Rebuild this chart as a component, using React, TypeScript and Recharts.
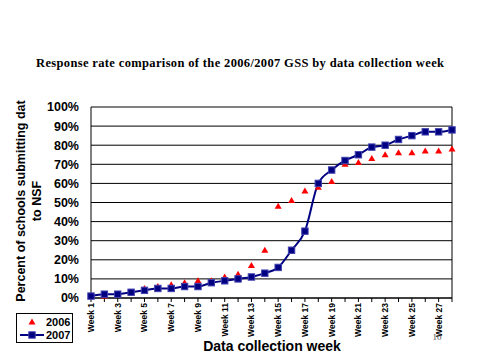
import React from 'react';
import { LineChart, Line, XAxis, YAxis, CartesianGrid, ReferenceLine } from 'recharts';

const weeks = [
  'Week 1', 'Week 2', 'Week 3', 'Week 4', 'Week 5', 'Week 6', 'Week 7',
  'Week 8', 'Week 9', 'Week 10', 'Week 11', 'Week 12', 'Week 13', 'Week 14',
  'Week 15', 'Week 16', 'Week 17', 'Week 18', 'Week 19', 'Week 20', 'Week 21',
  'Week 22', 'Week 23', 'Week 24', 'Week 25', 'Week 26', 'Week 27', 'Week 28',
];
const rate2006 = [1, 1, 1.5, 3, 5, 6, 7, 8, 9, 9, 11, 12.5, 17, 25, 48, 51, 56, 58, 61, 70, 71, 73, 75, 76, 76, 77, 77, 78];
const rate2007 = [1, 2, 2, 3, 4, 5, 5, 6, 6, 8, 9, 10, 11, 13, 16, 25, 35, 60, 67, 72, 75, 79, 80, 83, 85, 87, 87, 88];
const yTicks = [0, 10, 20, 30, 40, 50, 60, 70, 80, 90, 100];

const data = weeks.map((w, i) => ({ week: w, y2006: rate2006[i], y2007: rate2007[i] }));

const SANS = '"Liberation Sans", Arial, sans-serif';
const SERIF = '"Liberation Serif", "Times New Roman", serif';
const RED = '#FF0000';
const NAVY = '#000080';

const Tri = ({ cx, cy }: any) => {
  if (cx == null || cy == null) return null;
  return <path d={`M${cx},${cy - 3.5} L${cx + 3.5},${cy + 2.5} L${cx - 3.5},${cy + 2.5} Z`} fill={RED} />;
};

const Sq = ({ cx, cy }: any) => {
  if (cx == null || cy == null) return null;
  return <rect x={cx - 3.2} y={cy - 3.2} width={6.4} height={6.4} fill={NAVY} stroke="#4040b0" strokeWidth={1} />;
};

const WeekTick = ({ x, y, payload, index }: any) => {
  if (index % 2 !== 0) return <g />;
  return (
    <text transform={`translate(${x + 3},${y}) rotate(-90)`} textAnchor="end" fontSize={8.5} fontWeight={700} fontFamily={SANS} fill="#000">
      {payload.value}
    </text>
  );
};

export default function App() {
  return (
    <div style={{ position: 'absolute', left: 0, top: 0, width: 480, height: 360, background: '#fff' }}>
      <LineChart width={480} height={360} data={data} margin={{ top: 107, right: 28, bottom: 12, left: 36 }}>
        <CartesianGrid vertical={false} stroke="#000" strokeWidth={1} />
        <XAxis dataKey="week" interval={0} height={50} tick={<WeekTick />} tickSize={4} tickMargin={1} axisLine={{ stroke: '#000' }} tickLine={{ stroke: '#000' }} />
        <YAxis domain={[0, 100]} ticks={yTicks} interval={0} width={55} tickFormatter={v => `${v}%`} axisLine={{ stroke: '#000' }} tickLine={false} tickMargin={6}
          tick={{ fontSize: 12.5, fontWeight: 700, fill: '#000', fontFamily: SANS }} />
        <ReferenceLine x="Week 28" stroke="#000" strokeWidth={1} />
        <Line dataKey="y2006" stroke="none" dot={<Tri />} activeDot={false} isAnimationActive={false} />
        <Line dataKey="y2007" type="monotone" stroke={NAVY} strokeWidth={2} dot={<Sq />} activeDot={false} isAnimationActive={false} />
      </LineChart>
      <svg width={480} height={360} style={{ position: 'absolute', left: 0, top: 0, pointerEvents: 'none' }}>
        <text x={240} y={67} textAnchor="middle" fontSize={12.5} fontWeight={700} fontFamily={SERIF} textLength={408} lengthAdjust="spacing">
          Response rate comparison of the 2006/2007 GSS by data collection week
        </text>
        <text transform="translate(25,201) rotate(-90)" textAnchor="middle" fontSize={12.5} fontWeight={700} fontFamily={SANS}>
          Percent of schools submitting dat
        </text>
        <text transform="translate(41,201) rotate(-90)" textAnchor="middle" fontSize={12.5} fontWeight={700} fontFamily={SANS}>
          to NSF
        </text>
        <text x={272} y={351} textAnchor="middle" fontSize={14} fontWeight={700} fontFamily={SANS}>
          Data collection week
        </text>
        <text x={437} y={340} textAnchor="middle" fontSize={9} fontFamily={SERIF} fill="#555">10</text>
        <rect x={16.5} y={313.5} width={56} height={29} fill="#fff" stroke="#000" strokeWidth={1} />
        <Tri cx={32} cy={322} />
        <text x={46} y={326} fontSize={11} fontWeight={700} fontFamily={SANS}>2006</text>
        <line x1={20} y1={335} x2={44} y2={335} stroke={NAVY} strokeWidth={2} />
        <Sq cx={32} cy={335} />
        <text x={46} y={339} fontSize={11} fontWeight={700} fontFamily={SANS}>2007</text>
      </svg>
    </div>
  );
}
